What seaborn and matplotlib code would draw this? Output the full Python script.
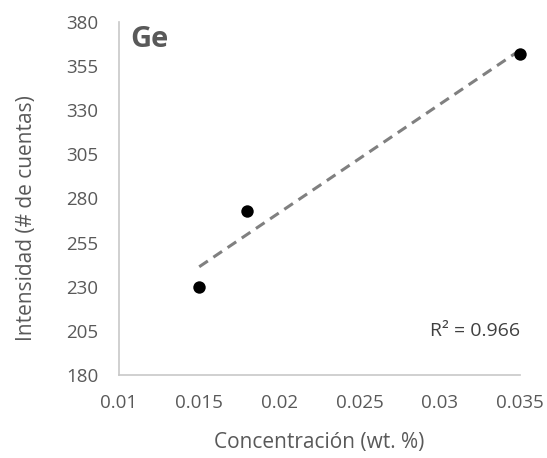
import numpy as np
import pandas as pd
import matplotlib
matplotlib.use("Agg")
import matplotlib.pyplot as plt
import seaborn as sns

# Ge calibration data
concentracion = [0.015, 0.018, 0.035]
intensidad = [230, 273, 362]
x_ticks = [0.01, 0.015, 0.02, 0.025, 0.03, 0.035]
y_ticks = [180, 205, 230, 255, 280, 305, 330, 355, 380]

df = pd.DataFrame({"conc": concentracion, "int": intensidad})

sns.set_theme(style="white")
plt.rcParams["font.family"] = ["Open Sans", "DejaVu Sans"]

fig = plt.figure(figsize=(5.47, 4.58), dpi=100)
ax = fig.add_axes([0.2176, 0.1812, 0.733, 0.771])

sns.regplot(data=df, x="conc", y="int", ax=ax, ci=None,
            scatter_kws=dict(color="black", s=80, alpha=1, linewidths=0,
                             zorder=3, clip_on=False),
            line_kws=dict(color="#808080", linestyle=(0, (3.4, 2.2)), linewidth=2.2))

# coefficient of determination of the linear fit
x = np.array(concentracion)
y = np.array(intensidad)
r2 = np.corrcoef(x, y)[0, 1] ** 2

ax.set_xlim(0.01, 0.035)
ax.set_ylim(180, 380)
ax.set_xticks(x_ticks)
ax.set_xticklabels([f"{t:g}" for t in x_ticks])
ax.set_yticks(y_ticks)

for s in ["top", "right"]:
    ax.spines[s].set_visible(False)
for s in ["left", "bottom"]:
    ax.spines[s].set_color("#c8c8c8")
    ax.spines[s].set_linewidth(1.2)

ax.tick_params(axis="x", length=0, labelsize=13.5, colors="#595959", pad=14)
ax.tick_params(axis="y", length=0, labelsize=13.5, colors="#595959", pad=15)
ax.set_xlabel("Concentración (wt. %)", fontsize=15, color="#595959", labelpad=14)
ax.set_ylabel("Intensidad (# de cuentas)", fontsize=15, color="#595959")
ax.yaxis.set_label_coords(-0.205, 0.445)

ax.text(0.035, 205, f"R² = {r2:.3f}", ha="right", va="center",
        fontsize=14, color="#404040")
ax.text(0.0107, 370, "Ge", ha="left", va="center", fontsize=21,
        fontweight="bold", color="#595959")

fig.savefig("out.png", dpi=100)
